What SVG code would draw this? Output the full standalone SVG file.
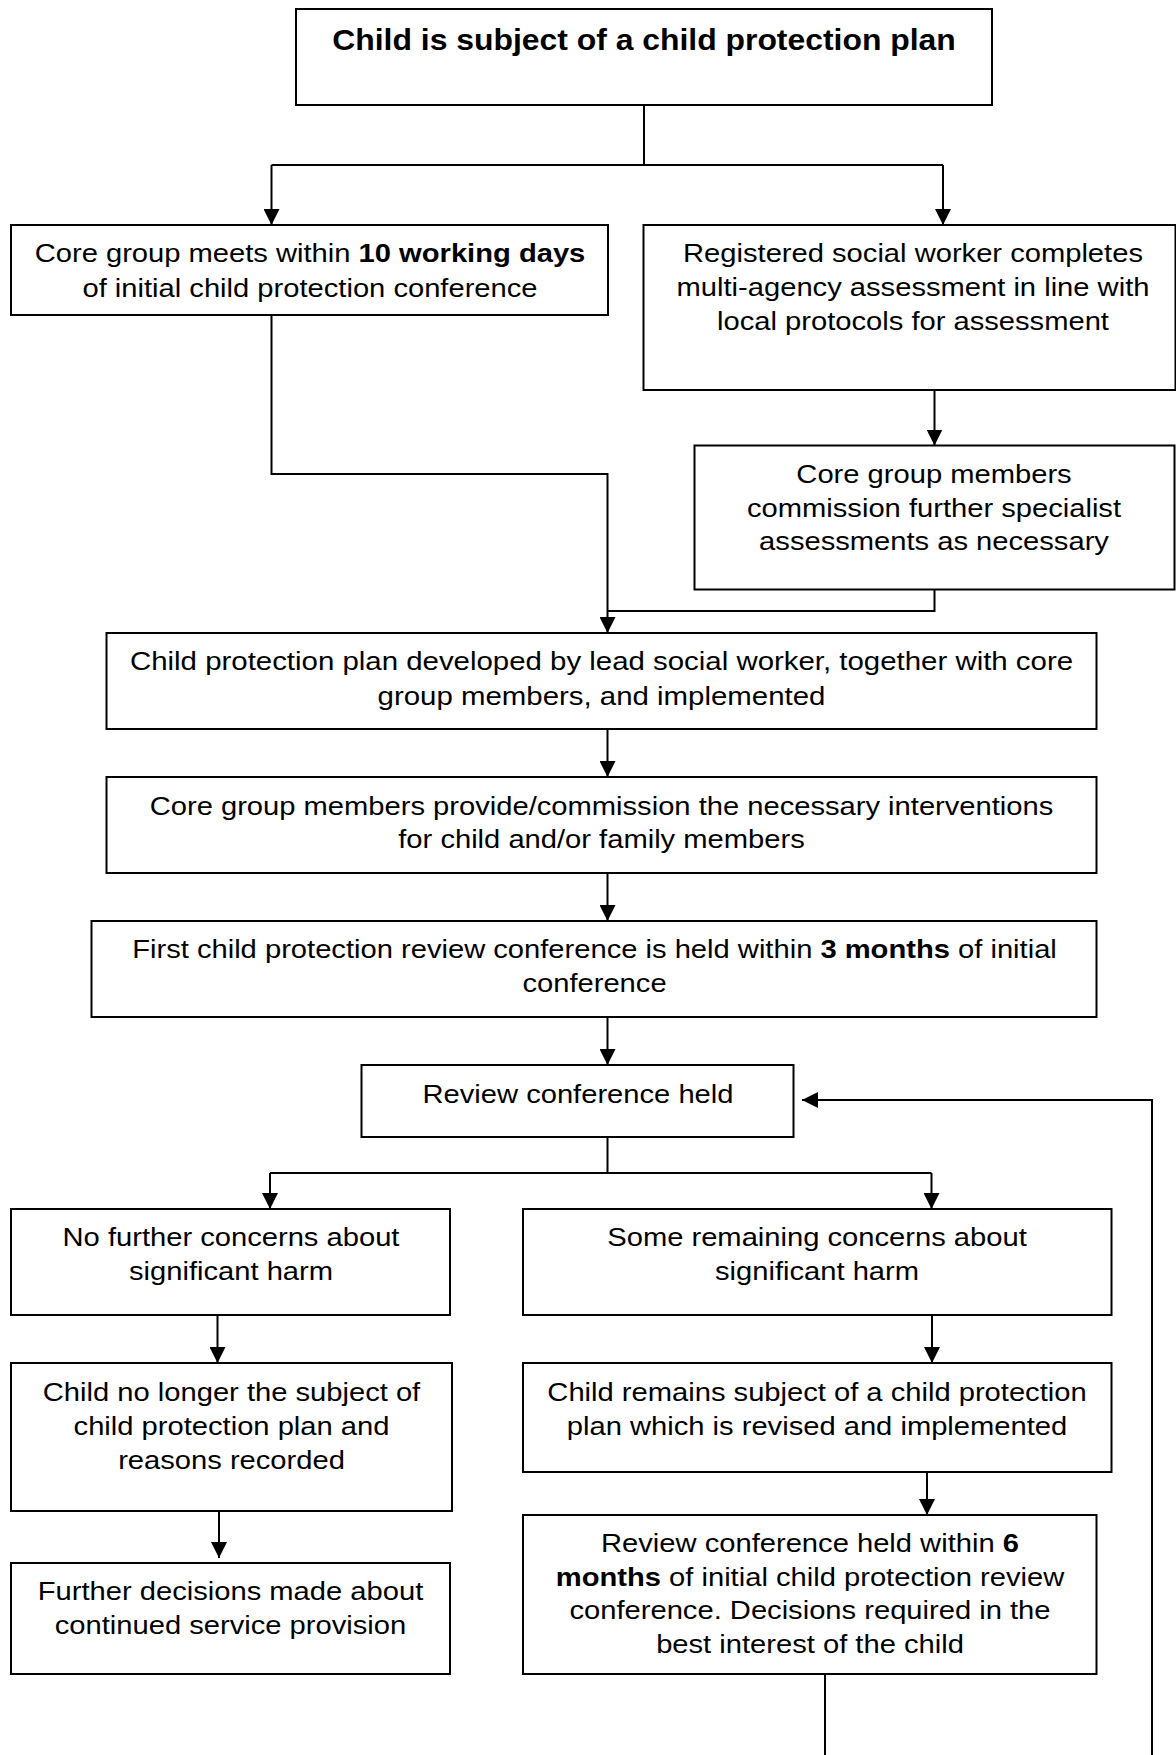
<svg xmlns="http://www.w3.org/2000/svg" width="1176" height="1755" viewBox="0 0 1176 1755">
<style>
.box{fill:#fff;stroke:#000;stroke-width:2}
.ln{fill:none;stroke:#000;stroke-width:2}
text{font-family:"Liberation Sans",Arial,sans-serif;font-size:26.5px;fill:#000;text-anchor:middle}
.b{font-weight:bold}
.title{font-weight:bold;font-size:29px}
</style>
<defs>
<marker id="ah" markerUnits="userSpaceOnUse" markerWidth="16" markerHeight="16" viewBox="0 0 16 16" refX="16" refY="8" orient="auto">
<path d="M0,0 L16,8 L0,16 Z" fill="#000"/>
</marker>
</defs>
<rect width="1176" height="1755" fill="#fff"/>
<g id="connectors">
<path class="ln" d="M644,105 V165 M271.5,165 H943"/>
<path class="ln" d="M271.5,165 V225" marker-end="url(#ah)"/>
<path class="ln" d="M943,165 V225" marker-end="url(#ah)"/>
<path class="ln" d="M271.5,315 V474 H607.5 V633" marker-end="url(#ah)"/>
<path class="ln" d="M934.5,390 V445.5" marker-end="url(#ah)"/>
<path class="ln" d="M934.5,589.5 V611 H607.5"/>
<path class="ln" d="M607.5,729 V777" marker-end="url(#ah)"/>
<path class="ln" d="M607.5,873 V921" marker-end="url(#ah)"/>
<path class="ln" d="M607.5,1017 V1065" marker-end="url(#ah)"/>
<path class="ln" d="M607.5,1137 V1173 M270,1173 H931.5"/>
<path class="ln" d="M270,1173 V1209" marker-end="url(#ah)"/>
<path class="ln" d="M931.5,1173 V1209" marker-end="url(#ah)"/>
<path class="ln" d="M217.5,1315 V1363" marker-end="url(#ah)"/>
<path class="ln" d="M219,1511 V1558" marker-end="url(#ah)"/>
<path class="ln" d="M932,1315 V1363" marker-end="url(#ah)"/>
<path class="ln" d="M927,1472 V1515" marker-end="url(#ah)"/>
<path class="ln" d="M825,1674 V1755"/>
<path class="ln" d="M1152,1755 V1100 H802" marker-end="url(#ah)"/>
</g>
<g id="n-start">
<rect class="box" x="296" y="9" width="696" height="96"/>
<text class="title" transform="translate(644,0) scale(1.1,1)" y="50">Child is subject of a child protection plan</text>
</g>
<g id="n-coregroup">
<rect class="box" x="11" y="225" width="597" height="90"/>
<text transform="translate(310,0) scale(1.1,1)" y="262">Core group meets within <tspan class="b">10 working days</tspan></text>
<text transform="translate(310,0) scale(1.1,1)" y="297">of initial child protection conference</text>
</g>
<g id="n-registered">
<rect class="box" x="643.5" y="225" width="532" height="165"/>
<text transform="translate(913,0) scale(1.1,1)" y="262">Registered social worker completes</text>
<text transform="translate(913,0) scale(1.1,1)" y="296.5">multi-agency assessment in line with</text>
<text transform="translate(913,0) scale(1.1,1)" y="330.5">local protocols for assessment</text>
</g>
<g id="n-commission">
<rect class="box" x="694.5" y="445.5" width="480" height="144"/>
<text transform="translate(934,0) scale(1.1,1)" y="483.5">Core group members</text>
<text transform="translate(934,0) scale(1.1,1)" y="517">commission further specialist</text>
<text transform="translate(934,0) scale(1.1,1)" y="550.5">assessments as necessary</text>
</g>
<g id="n-plan">
<rect class="box" x="106.5" y="633" width="990" height="96"/>
<text transform="translate(601.5,0) scale(1.11,1)" y="670">Child protection plan developed by lead social worker, together with core</text>
<text transform="translate(601.5,0) scale(1.11,1)" y="705">group members, and implemented</text>
</g>
<g id="n-provide">
<rect class="box" x="106.5" y="777" width="990" height="96"/>
<text transform="translate(601.5,0) scale(1.1,1)" y="815">Core group members provide/commission the necessary interventions</text>
<text transform="translate(601.5,0) scale(1.1,1)" y="848.5">for child and/or family members</text>
</g>
<g id="n-firstreview">
<rect class="box" x="91.5" y="921" width="1005" height="96"/>
<text transform="translate(594.5,0) scale(1.1,1)" y="958.5">First child protection review conference is held within <tspan class="b">3 months</tspan> of initial</text>
<text transform="translate(594.5,0) scale(1.1,1)" y="992">conference</text>
</g>
<g id="n-review">
<rect class="box" x="361.5" y="1065" width="432" height="72"/>
<text transform="translate(578,0) scale(1.1,1)" y="1103">Review conference held</text>
</g>
<g id="n-noconcerns">
<rect class="box" x="11" y="1209" width="439" height="106"/>
<text transform="translate(231,0) scale(1.1,1)" y="1246.5">No further concerns about</text>
<text transform="translate(231,0) scale(1.1,1)" y="1280">significant harm</text>
</g>
<g id="n-someconcerns">
<rect class="box" x="523" y="1209" width="588.5" height="106"/>
<text transform="translate(817,0) scale(1.1,1)" y="1246.5">Some remaining concerns about</text>
<text transform="translate(817,0) scale(1.1,1)" y="1280">significant harm</text>
</g>
<g id="n-nolonger">
<rect class="box" x="11" y="1363" width="441" height="148"/>
<text transform="translate(231.5,0) scale(1.1,1)" y="1401">Child no longer the subject of</text>
<text transform="translate(231.5,0) scale(1.1,1)" y="1435">child protection plan and</text>
<text transform="translate(231.5,0) scale(1.1,1)" y="1469">reasons recorded</text>
</g>
<g id="n-remains">
<rect class="box" x="523" y="1363" width="588.5" height="109"/>
<text transform="translate(817,0) scale(1.1,1)" y="1401">Child remains subject of a child protection</text>
<text transform="translate(817,0) scale(1.1,1)" y="1435">plan which is revised and implemented</text>
</g>
<g id="n-further">
<rect class="box" x="11" y="1563" width="439" height="111"/>
<text transform="translate(230.5,0) scale(1.1,1)" y="1600">Further decisions made about</text>
<text transform="translate(230.5,0) scale(1.1,1)" y="1634">continued service provision</text>
</g>
<g id="n-review6">
<rect class="box" x="523" y="1515" width="573.5" height="159"/>
<text transform="translate(810,0) scale(1.1,1)" y="1552">Review conference held within <tspan class="b">6</tspan></text>
<text transform="translate(810,0) scale(1.1,1)" y="1586"><tspan class="b">months</tspan> of initial child protection review</text>
<text transform="translate(810,0) scale(1.1,1)" y="1619.5">conference. Decisions required in the</text>
<text transform="translate(810,0) scale(1.1,1)" y="1653">best interest of the child</text>
</g>
</svg>
